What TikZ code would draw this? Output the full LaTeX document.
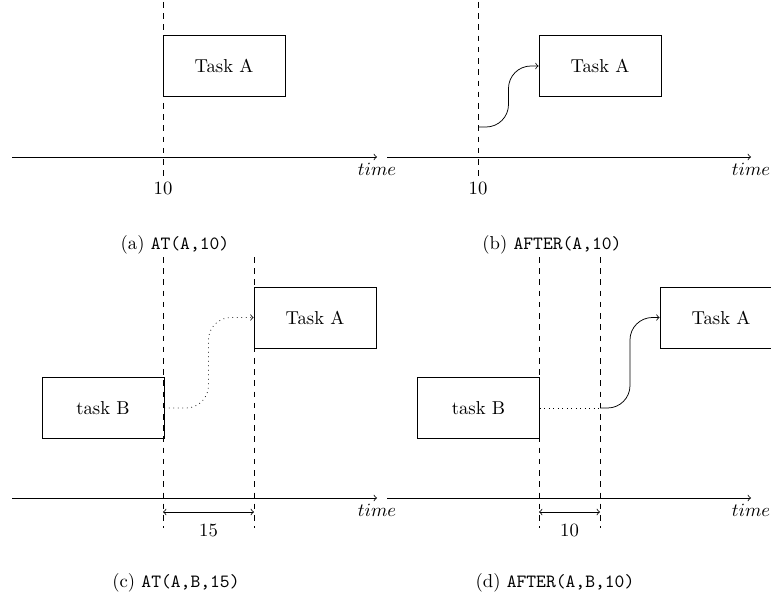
\documentclass[tikz,border=0pt]{standalone}
\begin{document}
\begin{tikzpicture}[x=0.535pt,y=-0.535pt,
  task/.style={draw, minimum width=65.3pt, minimum height=32.6pt, inner sep=0pt},
  marker/.style={dashed},
  timeaxis/.style={->},
  link/.style={->, rounded corners=12pt},
  waitline/.style={dotted},
  span/.style={<->},
  caption/.style={inner sep=0pt}]
\useasboundingbox (0,0) rectangle (771,599);

% ---------- (a) AT(A,10)
\coordinate (a-t0) at (163,2);
\coordinate (a-t1) at (163,179);
\draw[marker] (a-t0) -- (a-t1);
\node[task] (a-A) at (224,66) {Task A};
\coordinate (a-ax0) at (12,157);
\coordinate (a-ax1) at (377,157);
\draw[timeaxis] (a-ax0) -- (a-ax1);
\node[below] (a-time) at (a-ax1) {$time$};
\node (a-ten) at (163,188) {10};
\node[caption] (a-cap) at (175,245) {(a) \texttt{AT(A,10)}};

% ---------- (b) AFTER(A,10)
\coordinate (b-t0) at (478,2);
\coordinate (b-t1) at (478,179);
\draw[marker] (b-t0) -- (b-t1);
\node[task] (b-A) at (600,66) {Task A};
\coordinate (b-start) at (478,127);
\coordinate (b-bend) at (508.5,66);
\draw[link] (b-start) -| (b-bend) -- (b-A.west);
\coordinate (b-ax0) at (387,157);
\coordinate (b-ax1) at (751,157);
\draw[timeaxis] (b-ax0) -- (b-ax1);
\node[below] (b-time) at (b-ax1) {$time$};
\node (b-ten) at (478,188) {10};
\node[caption] (b-cap) at (552,245) {(b) \texttt{AFTER(A,10)}};

% ---------- (c) AT(A,B,15)
\coordinate (c-t0) at (163,257);
\coordinate (c-t1) at (163,528);
\coordinate (c-u0) at (254,257);
\coordinate (c-u1) at (254,528);
\draw[marker] (c-t0) -- (c-t1);
\draw[marker] (c-u0) -- (c-u1);
\node[task] (c-B) at (103,408) {task B};
\node[task] (c-A) at (315,317.5) {Task A};
\coordinate (c-bend) at (208.5,317.5);
\draw[link, dotted] (c-B.east) -| (c-bend) -- (c-A.west);
\coordinate (c-ax0) at (12,498);
\coordinate (c-ax1) at (377,498);
\draw[timeaxis] (c-ax0) -- (c-ax1);
\node[below] (c-time) at (c-ax1) {$time$};
\coordinate (c-s0) at (163,512);
\coordinate (c-s1) at (254,512);
\draw[span] (c-s0) -- (c-s1);
\node (c-gap) at (208.5,530) {15};
\node[caption] (c-cap) at (176,583) {(c) \texttt{AT(A,B,15)}};

% ---------- (d) AFTER(A,B,10)
\coordinate (d-t0) at (539,257);
\coordinate (d-t1) at (539,528);
\coordinate (d-u0) at (600,257);
\coordinate (d-u1) at (600,528);
\draw[marker] (d-t0) -- (d-t1);
\draw[marker] (d-u0) -- (d-u1);
\node[task] (d-B) at (478.5,408) {task B};
\node[task] (d-A) at (721,317.5) {Task A};
\coordinate (d-wait) at (600,408);
\draw[waitline] (d-B.east) -- (d-wait);
\coordinate (d-bend) at (630,317.5);
\draw[link] (d-wait) -| (d-bend) -- (d-A.west);
\coordinate (d-ax0) at (387,498);
\coordinate (d-ax1) at (751,498);
\draw[timeaxis] (d-ax0) -- (d-ax1);
\node[below] (d-time) at (d-ax1) {$time$};
\coordinate (d-s0) at (539,512);
\coordinate (d-s1) at (600,512);
\draw[span] (d-s0) -- (d-s1);
\node (d-gap) at (569.5,530) {10};
\node[caption] (d-cap) at (555,583) {(d) \texttt{AFTER(A,B,10)}};
\end{tikzpicture}
\end{document}
